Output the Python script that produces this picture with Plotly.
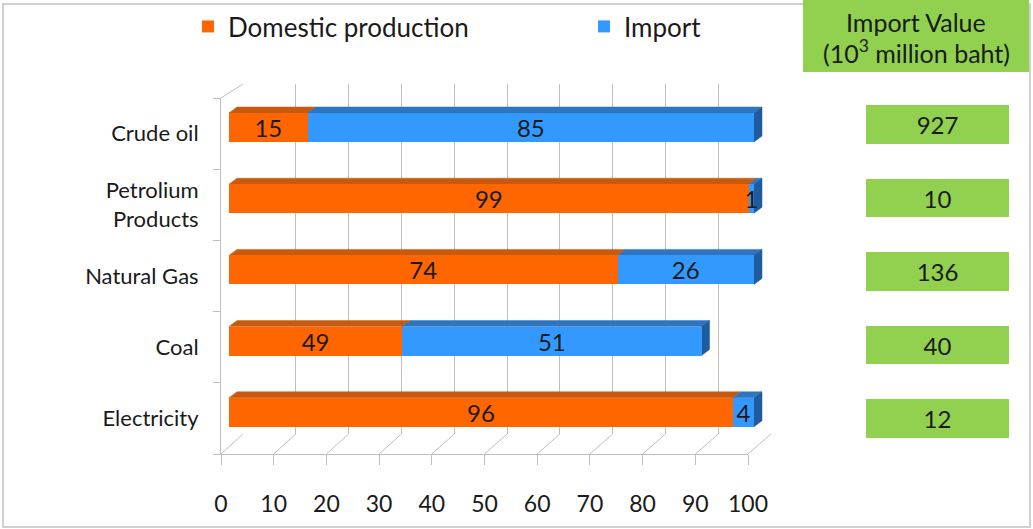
import plotly.graph_objects as go

W, H = 1033, 529

# ---------------- data ----------------
categories = ["Crude oil", "Petrolium<br>Products", "Natural Gas", "Coal", "Electricity"]
domestic = [15, 99, 74, 33, 96]          # bar lengths as drawn in the picture
imports = [85, 1, 26, 57, 4]
domestic_labels = ["15", "99", "74", "49", "96"]
import_labels = ["85", "1", "26", "51", "4"]
import_value = [927, 10, 136, 40, 12]
x_ticks = [0, 10, 20, 30, 40, 50, 60, 70, 80, 90, 100]
series_names = ["Domestic production", "Import"]
header_lines = ["Import Value", "(10<sup>3</sup> million baht)"]

# ---------------- style ----------------
ORANGE, ORANGE_TOP = "#FF6600", "#C65A10"
BLUE, BLUE_TOP, BLUE_SIDE = "#3399FF", "#2E74BE", "#1F5C9E"
GREEN = "#92D050"
GRID = "#BFBFBF"
TXT = "#1A1A1A"
FONT = "Lato"

def fx(p):
    return p / W

def fy(p):
    return 1 - p / H

n = len(categories)
pos = [n - 1 - i for i in range(n)]

# geometry in pixels
BAR_X, BAR_Y = (229, 754), (91.9, 447.9)   # pixel span of 0..100 on the bar axis
BAR_X_END = 780                            # extra room for the 3D side faces
FRONT_X, FRONT_Y = (221, 748), (98, 454)
BACK_X, BACK_Y = (243, 771), (84, 434)
BOX_X, BOX_Y = (866, 1009), (87.75, 455.25)
DEPTH_PX = (8, 6)
BAR_W = 0.407
BOX_W = 0.53

px_per_unit = (BAR_X[1] - BAR_X[0]) / 100
dx = DEPTH_PX[0] / px_per_unit
dy = DEPTH_PX[1] * n / (BAR_Y[1] - BAR_Y[0])
bar_range_max = (BAR_X_END - BAR_X[0]) / px_per_unit

fig = go.Figure()

# placeholders so the wall / front axes subplots render
fig.add_trace(go.Scatter(x=[None], y=[None], xaxis="x", yaxis="y", showlegend=False, hoverinfo="skip"))
fig.add_trace(go.Scatter(x=[None], y=[None], xaxis="x2", yaxis="y2", showlegend=False, hoverinfo="skip"))

# 3D faces derived from the data (drawn in a subplot beneath the bars)
ox, oy, bx, by, sx, sy = [], [], [], [], [], []
for d, m, p in zip(domestic, imports, pos):
    yt, yb = p + BAR_W / 2, p - BAR_W / 2
    e = d + m
    ox += [0, d, d + dx, dx, 0, None]
    oy += [yt, yt, yt + dy, yt + dy, yt, None]
    bx += [d, e, e + dx, d + dx, d, None]
    by += [yt, yt, yt + dy, yt + dy, yt, None]
    sx += [e, e + dx, e + dx, e, e, None]
    sy += [yt, yt + dy, yb + dy, yb, yt, None]
for xs, ys, c in [(ox, oy, ORANGE_TOP), (bx, by, BLUE_TOP), (sx, sy, BLUE_SIDE)]:
    fig.add_trace(go.Scatter(x=xs, y=ys, mode="lines", fill="toself", fillcolor=c,
                             line=dict(color=c, width=0.5), showlegend=False,
                             hoverinfo="skip", xaxis="x3", yaxis="y3", cliponaxis=False))

# import value boxes
fig.add_trace(go.Bar(
    orientation="h", x=[1] * n, y=pos, width=BOX_W,
    marker=dict(color=GREEN, line=dict(width=0)),
    text=[str(v) for v in import_value], textposition="inside", insidetextanchor="middle",
    textangle=0, textfont=dict(color=TXT, size=24, family=FONT),
    showlegend=False, xaxis="x4", yaxis="y4", hoverinfo="skip"))

# main bars (front faces)
fig.add_trace(go.Bar(
    orientation="h", x=domestic, y=pos, width=BAR_W, name=series_names[0],
    marker=dict(color=ORANGE, line=dict(width=0)),
    text=domestic_labels, textposition="inside", insidetextanchor="middle", textangle=0,
    textfont=dict(color=TXT, size=24, family=FONT), cliponaxis=False,
    xaxis="x5", yaxis="y5", hoverinfo="skip"))
fig.add_trace(go.Bar(
    orientation="h", x=imports, y=pos, base=domestic, width=BAR_W, name=series_names[1],
    marker=dict(color=BLUE, line=dict(width=0)),
    text=import_labels, textposition="inside", insidetextanchor="middle", textangle=0,
    textfont=dict(color=TXT, size=24, family=FONT), cliponaxis=False,
    xaxis="x5", yaxis="y5", hoverinfo="skip"))

shapes = []
# outer border
shapes.append(dict(type="rect", xref="paper", yref="paper", x0=fx(3), x1=fx(1030),
                   y0=fy(527), y1=fy(4), line=dict(color="#D0D0D0", width=2), layer="below"))
# floor diagonals
for v in x_ticks:
    f = FRONT_X[0] + v / 100 * (FRONT_X[1] - FRONT_X[0])
    b = BACK_X[0] + v / 100 * (BACK_X[1] - BACK_X[0])
    shapes.append(dict(type="line", xref="paper", yref="paper", x0=fx(f), x1=fx(b),
                       y0=fy(FRONT_Y[1]), y1=fy(BACK_Y[1]), line=dict(color=GRID, width=1)))
# left wall top edge
shapes.append(dict(type="line", xref="paper", yref="paper", x0=fx(FRONT_X[0]), x1=fx(BACK_X[0]),
                   y0=fy(FRONT_Y[0]), y1=fy(BACK_Y[0]), line=dict(color=GRID, width=1)))
# header box
shapes.append(dict(type="rect", xref="paper", yref="paper", x0=fx(803), x1=fx(1029),
                   y0=fy(72), y1=fy(0), fillcolor=GREEN, line=dict(width=0)))

annotations = [
    dict(xref="paper", yref="paper", x=fx(916), y=fy(yy), text=t, showarrow=False,
         font=dict(size=25, color=TXT, family=FONT), xanchor="center", yanchor="middle")
    for t, yy in zip(header_lines, [22, 51])
]

bar_x_axis = dict(domain=[fx(BAR_X[0]), fx(BAR_X_END)], range=[0, bar_range_max],
                  visible=False, fixedrange=True, automargin=False)
bar_y_axis = dict(domain=[fy(BAR_Y[1]), fy(BAR_Y[0])], range=[-0.5, n - 0.5],
                  visible=False, fixedrange=True, automargin=False)

fig.update_layout(
    width=W, height=H, autosize=False,
    margin=dict(l=0, r=0, t=0, b=0, pad=0),
    paper_bgcolor="white", plot_bgcolor="rgba(0,0,0,0)",
    barmode="stack", bargap=0, hovermode=False,
    font=dict(family=FONT, color=TXT),
    uniformtext=dict(minsize=24, mode="show"),
    shapes=shapes,
    annotations=annotations,
    legend=dict(orientation="h", x=fx(188), y=fy(3), xanchor="left", yanchor="top",
                font=dict(size=26, color=TXT, family=FONT), entrywidth=351,
                bgcolor="rgba(0,0,0,0)", traceorder="normal"),
    # back wall grid
    xaxis=dict(domain=[fx(BACK_X[0]), fx(BACK_X[1])], range=[0, 100], anchor="y",
               tickvals=x_ticks, showgrid=True, gridcolor=GRID, gridwidth=1, automargin=False,
               showticklabels=False, ticks="", zeroline=False, showline=False, fixedrange=True),
    yaxis=dict(domain=[fy(BACK_Y[1]), fy(BACK_Y[0])], range=[0, 1], anchor="x",
               visible=False, fixedrange=True, automargin=False),
    # front axes with labels
    xaxis2=dict(domain=[fx(FRONT_X[0]), fx(FRONT_X[1])], range=[0, 100], anchor="y2",
                tickvals=x_ticks, ticks="outside", ticklen=10, tickcolor=GRID,
                showline=True, linecolor=GRID, linewidth=1, showgrid=False, zeroline=False,
                tickfont=dict(size=23, color=TXT, family=FONT), ticklabelstandoff=19,
                fixedrange=True, automargin=False),
    yaxis2=dict(domain=[fy(FRONT_Y[1]), fy(FRONT_Y[0])], range=[-0.5, n - 0.5], anchor="x2",
                tickvals=pos, ticktext=categories, ticks="", showline=True, linecolor=GRID,
                linewidth=1, showgrid=False, zeroline=False, automargin=False,
                minor=dict(tickvals=[p + 0.5 for p in range(-1, n)], ticks="outside",
                           ticklen=7, tickcolor=GRID),
                tickfont=dict(size=22, color=TXT, family=FONT), ticklabelstandoff=17,
                fixedrange=True),
    # 3D faces
    xaxis3=dict(bar_x_axis, anchor="y3"),
    yaxis3=dict(bar_y_axis, anchor="x3"),
    # import value boxes
    xaxis4=dict(domain=[fx(BOX_X[0]), fx(BOX_X[1])], range=[0, 1], anchor="y4",
                visible=False, fixedrange=True, automargin=False),
    yaxis4=dict(domain=[fy(BOX_Y[1]), fy(BOX_Y[0])], range=[-0.5, n - 0.5], anchor="x4",
                visible=False, fixedrange=True, automargin=False),
    # bars
    xaxis5=dict(bar_x_axis, anchor="y5"),
    yaxis5=dict(bar_y_axis, anchor="x5"),
)

fig.write_html("out.html", config={"displayModeBar": False, "staticPlot": True},
               post_script="document.body.style.margin='0';document.body.style.overflow='hidden';")
